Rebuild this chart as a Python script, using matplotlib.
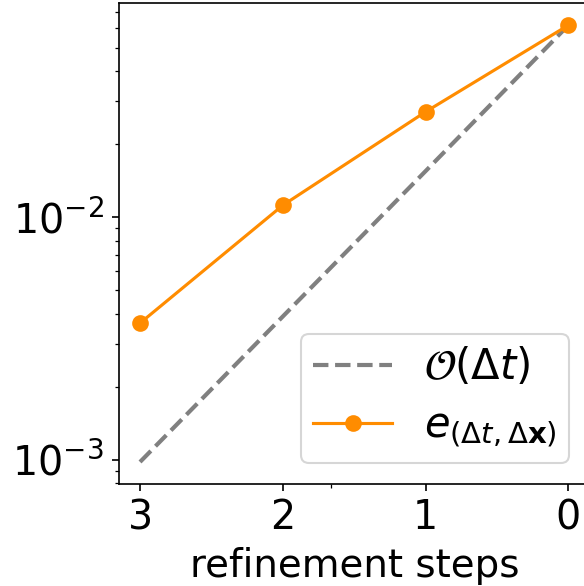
import matplotlib

matplotlib.use("Agg")

import matplotlib.pyplot as plt


# refinement steps (coarse -> fine, axis is drawn reversed)
steps = [3, 2, 1, 0]
error_values = [0.00366, 0.0112, 0.0272, 0.0619]
reference_values = [0.00098, 0.0039, 0.0155, 0.0619]
step_labels = ["3", "2", "1", "0"]


def main():
    plt.rcParams["font.size"] = 19

    fig = plt.figure(figsize=(584 / 150, 586 / 150), dpi=150)
    # axes runs slightly past the right edge, as in the cropped original
    ax = fig.add_axes([0.2031, 0.1744, 0.807, 0.820])

    ax.plot(steps, reference_values, linestyle="--", color="gray", linewidth=2,
            label=r"$\mathcal{O}(\Delta t)$")
    ax.plot(steps, error_values, marker="o", markersize=7, color="darkorange",
            linewidth=1.5, label=r"$e_{(\Delta t, \Delta \mathbf{x})}$")

    ax.set_yscale("log")
    ax.set_xticks(steps)
    ax.set_xticklabels(step_labels)
    ax.set_xticks([1.66], minor=True)
    ax.invert_xaxis()
    ax.set_xlabel("refinement steps", fontsize=18.6)

    ax.legend(loc="lower right", fontsize=20, borderpad=0.3, labelspacing=0.4,
              handlelength=1.9, handletextpad=0.75)

    fig.savefig("out.png", dpi=150)
    plt.close(fig)


if __name__ == "__main__":
    main()
